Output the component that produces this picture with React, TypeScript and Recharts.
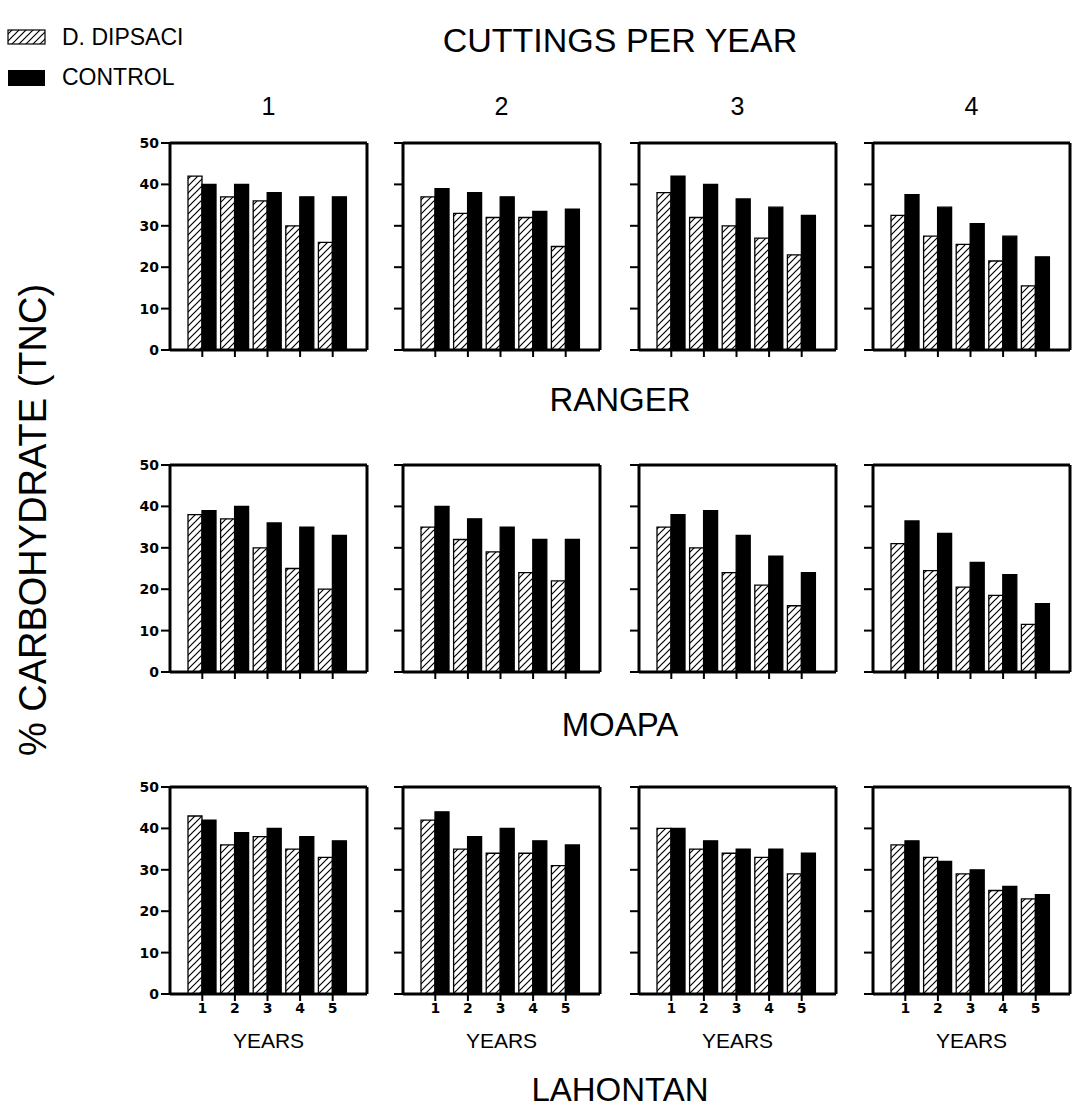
import React from "react";
import { BarChart, Bar, XAxis, YAxis, CartesianGrid } from "recharts";

// categories
const years = ["1", "2", "3", "4", "5"];
const cuttings = ["1", "2", "3", "4"];
const cultivars = ["RANGER", "MOAPA", "LAHONTAN"];
const yTicks = [0, 10, 20, 30, 40, 50];

// % TNC, one row per cuttings-per-year panel (1..4), values for years 1..5
const rangerDipsaci = [
  [42, 37, 36, 30, 26],
  [37, 33, 32, 32, 25],
  [38, 32, 30, 27, 23],
  [32.5, 27.5, 25.5, 21.5, 15.5],
];
const rangerControl = [
  [40, 40, 38, 37, 37],
  [39, 38, 37, 33.5, 34],
  [42, 40, 36.5, 34.5, 32.5],
  [37.5, 34.5, 30.5, 27.5, 22.5],
];
const moapaDipsaci = [
  [38, 37, 30, 25, 20],
  [35, 32, 29, 24, 22],
  [35, 30, 24, 21, 16],
  [31, 24.5, 20.5, 18.5, 11.5],
];
const moapaControl = [
  [39, 40, 36, 35, 33],
  [40, 37, 35, 32, 32],
  [38, 39, 33, 28, 24],
  [36.5, 33.5, 26.5, 23.5, 16.5],
];
const lahontanDipsaci = [
  [43, 36, 38, 35, 33],
  [42, 35, 34, 34, 31],
  [40, 35, 34, 33, 29],
  [36, 33, 29, 25, 23],
];
const lahontanControl = [
  [42, 39, 40, 38, 37],
  [44, 38, 40, 37, 36],
  [40, 37, 35, 35, 34],
  [37, 32, 30, 26, 24],
];

const dipsaci = [rangerDipsaci, moapaDipsaci, lahontanDipsaci];
const control = [rangerControl, moapaControl, lahontanControl];

const panelLeft = [170, 403, 639, 873];
const panelTop = [143, 465, 787];
const PW = 197;
const PH = 207;
const YW = 60;
const MT = 12;

const sans = "'Liberation Sans', Arial, sans-serif";
const bold = "'DejaVu Sans', sans-serif";

function Panel({ row, col }: { row: number; col: number }) {
  const data = years.map((y, i) => ({
    year: y,
    dipsaci: dipsaci[row][col][i],
    control: control[row][col][i],
  }));
  const last = row === 2;
  const xh = last ? 62 : 20;
  const axisLine = { stroke: "#000", strokeWidth: 3 };
  return (
    <div style={{ position: "absolute", left: panelLeft[col] - YW, top: panelTop[row] - MT }}>
      <BarChart
        width={YW + PW + 6}
        height={MT + PH + xh}
        data={data}
        margin={{ top: MT, right: 6, left: 0, bottom: 0 }}
        barGap={0}
      >
        {/* top and right edges of the box */}
        <CartesianGrid
          stroke="#000"
          strokeWidth={3}
          fill="none"
          horizontalCoordinatesGenerator={({ offset }: any) => [offset.top]}
          verticalCoordinatesGenerator={({ offset }: any) => [offset.left + offset.width]}
        />
        <XAxis
          dataKey="year"
          padding={{ left: 16, right: 18 }}
          axisLine={axisLine}
          tickLine={{ stroke: "#000", strokeWidth: 2 }}
          tickSize={7}
          height={xh}
          tickFormatter={(v) => (last ? v : "")}
          tick={{ fill: "#000", fontFamily: bold, fontWeight: 700, fontSize: 14 }}
          label={
            last
              ? { value: "YEARS", position: "insideBottom", offset: 8, fill: "#000", fontFamily: sans, fontSize: 21 }
              : undefined
          }
        />
        <YAxis
          domain={[0, 50]}
          ticks={yTicks}
          width={YW}
          axisLine={axisLine}
          tickLine={{ stroke: "#000", strokeWidth: 2 }}
          tickSize={9}
          interval={0}
          tickFormatter={(v) => (col === 0 ? String(v) : "")}
          tick={{ fill: "#000", fontFamily: bold, fontWeight: 700, fontSize: 14 }}
        />
        <Bar dataKey="dipsaci" barSize={14} fill="url(#hatch)" stroke="#000" strokeWidth={1.3} isAnimationActive={false} />
        <Bar dataKey="control" barSize={14} fill="#000" stroke="#000" strokeWidth={1.3} isAnimationActive={false} />
      </BarChart>
    </div>
  );
}

function Label({ text, x, y, size, w = 400 }: { text: string; x: number; y: number; size: number; w?: number }) {
  return (
    <div
      style={{
        position: "absolute",
        left: x - w / 2,
        top: y - size * 0.6,
        width: w,
        textAlign: "center",
        fontFamily: sans,
        fontSize: size,
        lineHeight: `${size * 1.2}px`,
        color: "#000",
        whiteSpace: "nowrap",
      }}
    >
      {text}
    </div>
  );
}

export default function App() {
  const centerX = (panelLeft[0] + panelLeft[3] + PW) / 2;
  return (
    <div style={{ position: "absolute", left: 0, top: 0, width: 1079, height: 1119, background: "#fff" }}>
      <svg width={0} height={0} style={{ position: "absolute" }}>
        <defs>
          <pattern id="hatch" patternUnits="userSpaceOnUse" width={7} height={7}>
            <rect width={7} height={7} fill="#fff" />
            <path d="M-1,1 L1,-1 M0,7 L7,0 M6,8 L8,6" stroke="#000" strokeWidth={1.2} />
          </pattern>
        </defs>
      </svg>

      {/* legend */}
      <svg width={50} height={100} style={{ position: "absolute", left: 0, top: 0 }}>
        <rect x={8} y={30} width={37} height={14} fill="url(#hatch)" stroke="#000" strokeWidth={1.2} />
        <rect x={8} y={70} width={37} height={16} fill="#000" />
      </svg>
      <div style={{ position: "absolute", left: 62, top: 23, fontFamily: sans, fontSize: 23, lineHeight: "28px" }}>D. DIPSACI</div>
      <div style={{ position: "absolute", left: 62, top: 63, fontFamily: sans, fontSize: 23, lineHeight: "28px" }}>CONTROL</div>

      <Label text="CUTTINGS PER YEAR" x={centerX} y={40} size={34} />
      {cuttings.map((c, i) => (
        <Label key={c} text={c} x={panelLeft[i] + PW / 2} y={106} size={25} w={40} />
      ))}

      {cultivars.map((name, r) =>
        cuttings.map((_, c) => <Panel key={name + c} row={r} col={c} />)
      )}

      <Label text="RANGER" x={centerX} y={400} size={33} />
      <Label text="MOAPA" x={centerX} y={725} size={33} />
      <Label text="LAHONTAN" x={centerX} y={1090} size={33} />

      <div
        style={{
          position: "absolute",
          left: 33 - 300,
          top: 520 - 25,
          width: 600,
          textAlign: "center",
          fontFamily: sans,
          fontSize: 38,
          lineHeight: "50px",
          transform: "rotate(-90deg)",
          whiteSpace: "nowrap",
        }}
      >
        % CARBOHYDRATE (TNC)
      </div>
    </div>
  );
}
